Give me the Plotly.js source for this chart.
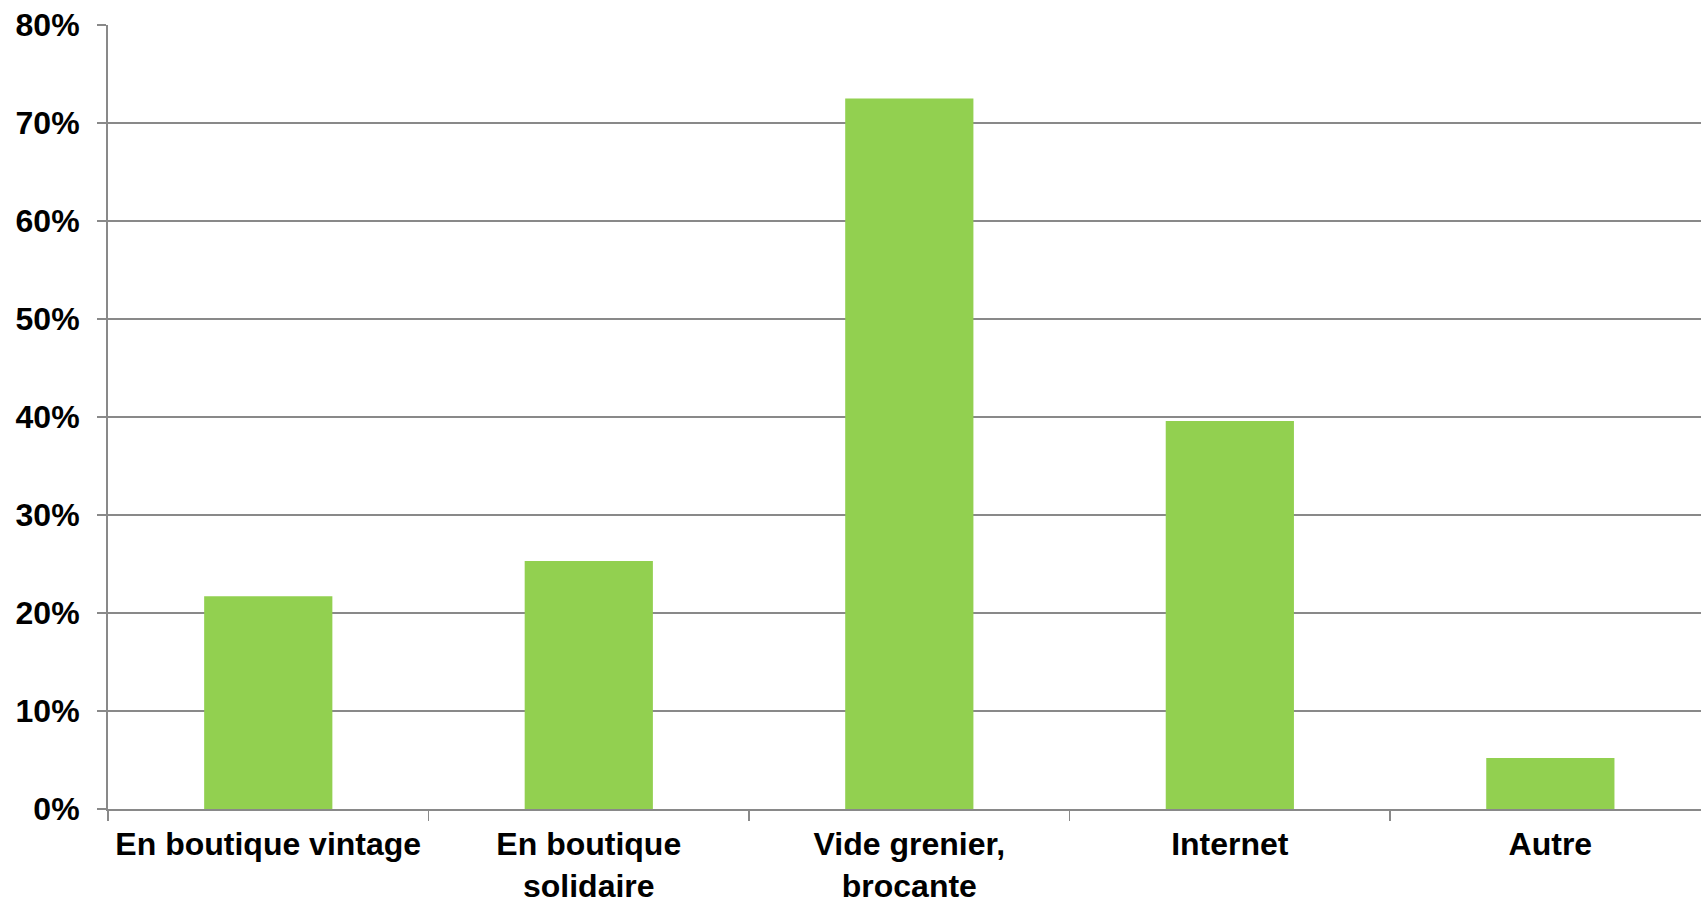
<!DOCTYPE html>
<html>
<head>
<meta charset="utf-8">
<script src="https://cdn.plot.ly/plotly-3.0.1.min.js"></script>
<style>
  html, body { margin: 0; padding: 0; background: #ffffff; }
  #chart { width: 1701px; height: 901px; }
</style>
</head>
<body>
<div id="chart"></div>
<script>
const categories = [
  "En boutique vintage",
  "En boutique<br>solidaire",
  "Vide grenier,<br>brocante",
  "Internet",
  "Autre"
];
const values = [21.7, 25.3, 72.5, 39.6, 5.2];
const yTickValues = [0, 10, 20, 30, 40, 50, 60, 70, 80];
const yTickLabels = ["0%", "10%", "20%", "30%", "40%", "50%", "60%", "70%", "80%"];

const axisGray = "#898989";
const fontFamily = "'Liberation Sans', Arial, sans-serif";

const trace = {
  type: "bar",
  x: categories,
  y: values,
  marker: { color: "#92D050" },
  hoverinfo: "x+y"
};

const layout = {
  width: 1701,
  height: 901,
  margin: { l: 108, r: 0, t: 25, b: 92 },
  paper_bgcolor: "#ffffff",
  plot_bgcolor: "#ffffff",
  bargap: 0.6,
  showlegend: false,
  font: { family: fontFamily, color: "#000000" },
  xaxis: {
    type: "category",
    range: [-0.5, 4.47],
    showgrid: false,
    showline: true,
    linecolor: axisGray,
    linewidth: 2,
    ticks: "outside",
    tickson: "boundaries",
    ticklen: 10,
    tickwidth: 1.5,
    tickcolor: axisGray,
    tickangle: 0,
    ticklabelstandoff: 6,
    tickfont: { family: fontFamily, size: 32, color: "#000000", weight: 700 },
    fixedrange: true
  },
  yaxis: {
    range: [0, 80],
    tickmode: "array",
    tickvals: yTickValues,
    ticktext: yTickLabels,
    showgrid: true,
    gridcolor: axisGray,
    gridwidth: 1.5,
    zeroline: false,
    showline: true,
    linecolor: axisGray,
    linewidth: 2,
    ticks: "outside",
    ticklen: 9,
    tickwidth: 1.5,
    tickcolor: axisGray,
    ticklabelstandoff: 11,
    tickfont: { family: fontFamily, size: 32, color: "#000000", weight: 700 },
    fixedrange: true
  }
};

Plotly.newPlot("chart", [trace], layout, { displayModeBar: false, staticPlot: true });
</script>
</body>
</html>
